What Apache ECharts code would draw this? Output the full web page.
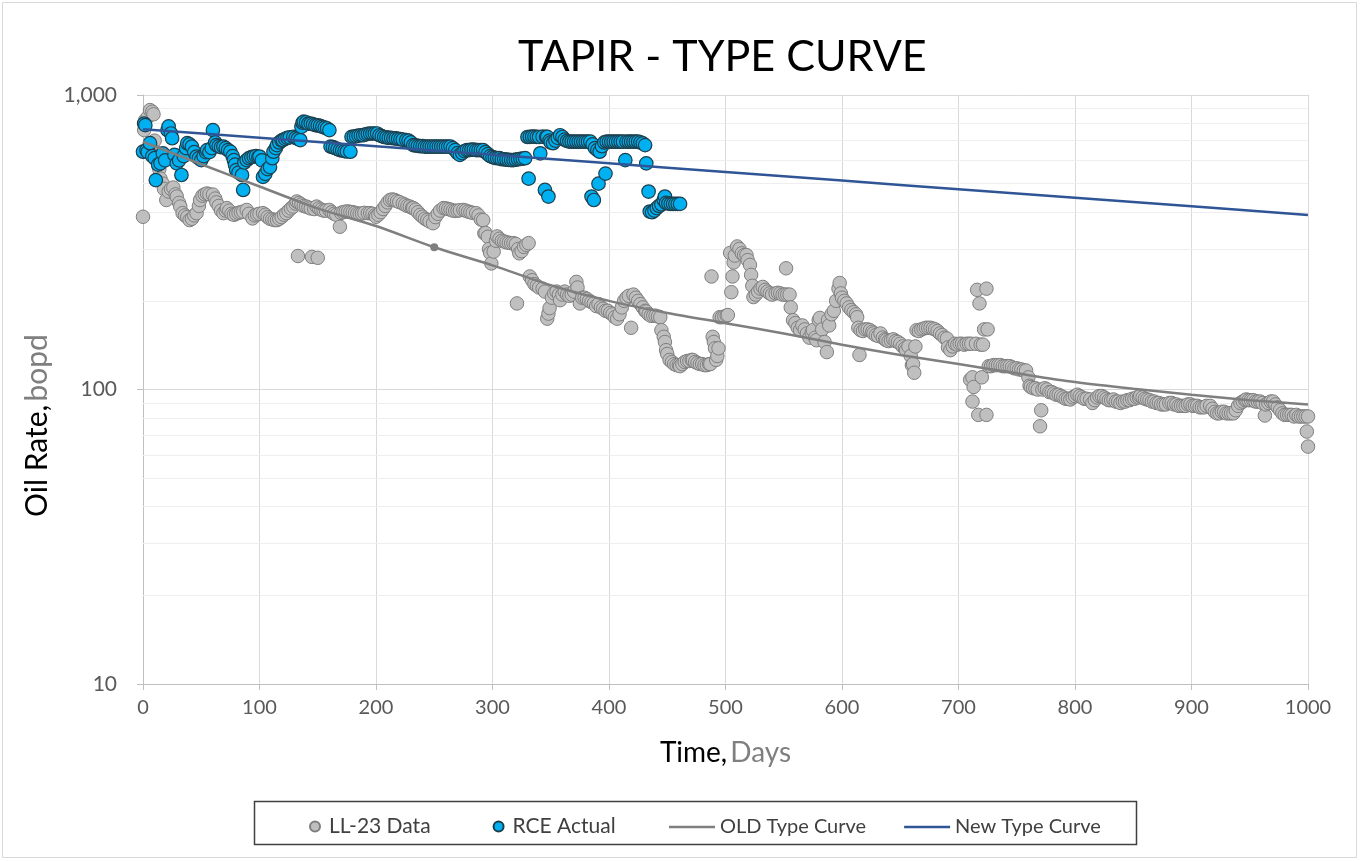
<!DOCTYPE html>
<html><head><meta charset="utf-8">
<script src="https://cdn.jsdelivr.net/npm/echarts@6/dist/echarts.min.js"></script>
<style>html,body{margin:0;padding:0;background:#fff}#c{width:1360px;height:861px}</style>
</head><body><div id="c"></div>
<script>
// LL-23 Data: [day, oil rate bopd]
const llData = [[0,386],[1,760],[2,822],[4,840],[6,889],[8,877],[9,860],[10,700],[11,640],[13,600],[14,560],[15,520],[17,500],[18,480],[20,440],[22,470],[24,480],[26,485],[28,460],[29,452],[31,430],[32,418],[34,397],[36,390],[38,385],[40,376],[42,380],[44,390],[46,397],[48,420],[49,440],[51,455],[53,460],[55,463],[57,460],[60,459],[62,445],[63,432],[65,420],[67,405],[69,397],[71,405],[72,413],[74,405],[76,395],[78,392],[80,395],[82,398],[84,400],[86,402],[89,407],[91,395],[94,381],[96,390],[98,393],[100,395],[103,397],[105,392],[107,385],[109,380],[111,378],[113,376],[115,376],[117,380],[119,385],[121,392],[123,397],[125,405],[127,412],[129,418],[131,428],[132,435],[133,284],[134,430],[136,425],[138,420],[140,418],[142,415],[144,412],[145,282],[147,410],[149,418],[150,280],[151,412],[153,408],[155,405],[157,405],[160,407],[162,400],[164,395],[166,392],[169,357],[170,398],[172,400],[174,402],[176,402],[178,401],[180,400],[182,398],[184,396],[186,395],[188,396],[190,398],[193,397],[195,397],[197,395],[199,390],[200,386],[202,392],[204,400],[206,410],[208,420],[210,432],[212,440],[214,442],[216,440],[218,436],[220,433],[223,428],[225,424],[227,420],[229,418],[231,414],[232,413],[234,408],[236,400],[238,392],[240,386],[242,380],[244,376],[246,372],[249,367],[251,385],[253,395],[255,405],[258,413],[260,412],[262,410],[264,408],[266,405],[268,404],[270,405],[272,406],[275,407],[277,405],[279,402],[281,400],[283,398],[286,397],[288,390],[290,378],[292,376],[293,339],[294,340],[296,330],[297,300],[298,291],[299,268],[301,294],[303,320],[304,331],[306,325],[308,320],[310,318],[312,316],[314,315],[316,314],[318,314],[320,312],[321,196],[322,300],[323,290],[325,295],[327,305],[329,310],[331,314],[332,242],[334,235],[336,228],[338,225],[340,222],[343,220],[345,215],[347,174],[348,181],[349,189],[351,205],[353,212],[355,215],[357,210],[358,201],[360,210],[362,215],[364,210],[366,208],[368,210],[370,215],[372,232],[373,222],[375,196],[377,205],[379,205],[381,203],[383,200],[385,198],[387,196],[389,192],[391,195],[393,190],[395,188],[397,185],[399,185],[401,182],[403,180],[405,176],[407,174],[409,180],[411,190],[413,200],[415,205],[417,208],[419,162],[421,210],[423,205],[425,200],[427,195],[429,190],[431,185],[432,184],[434,180],[436,178],[438,178],[440,178],[442,177],[444,176],[445,159],[447,151],[448,145],[449,136],[450,132],[452,126],[454,124],[456,122],[458,121],[460,121],[461,120],[463,122],[465,124],[467,125],[469,125],[471,126],[472,126],[474,124],[476,123],[478,122],[480,122],[482,121],[484,121],[486,122],[487,122],[488,242],[489,151],[490,145],[491,138],[492,126],[493,130],[494,138],[495,176],[497,176],[499,177],[501,178],[502,179],[504,291],[505,214],[506,242],[507,270],[508,285],[510,306],[512,300],[514,290],[516,286],[518,286],[519,275],[521,265],[522,245],[523,225],[524,206],[526,210],[528,215],[530,220],[532,223],[534,218],[536,215],[538,212],[540,210],[543,212],[545,213],[547,212],[549,210],[551,210],[552,258],[553,210],[555,210],[556,190],[558,172],[560,168],[562,162],[564,159],[566,165],[568,160],[570,155],[572,150],[574,156],[575,159],[577,150],[578,147],[580,172],[581,175],[583,160],[585,145],[587,134],[588,172],[589,165],[591,180],[593,185],[595,200],[597,220],[598,230],[599,212],[600,205],[602,200],[604,196],[606,190],[608,186],[610,183],[612,180],[613,176],[614,162],[615,131],[616,159],[618,158],[620,160],[622,160],[624,159],[626,157],[627,155],[629,153],[631,152],[633,155],[635,150],[637,148],[638,147],[640,146],[642,147],[644,148],[646,146],[648,145],[650,143],[652,140],[654,138],[655,136],[657,140],[659,130],[660,121],[661,122],[662,114],[663,140],[664,159],[666,158],[668,160],[670,161],[672,162],[674,162],[676,162],[678,161],[680,160],[682,158],[684,155],[686,153],[688,150],[690,149],[691,139],[693,136],[695,140],[697,143],[699,142],[701,143],[703,143],[705,142],[707,143],[709,143],[710,108],[711,143],[712,110],[712,91],[713,102],[715,143],[716,218],[717,82],[718,196],[719,142],[720,110],[721,142],[722,160],[724,220],[724,82],[725,160],[726,120],[728,120],[730,121],[732,121],[734,121],[736,121],[738,120],[740,120],[742,120],[744,120],[746,119],[748,118],[750,118],[752,117],[754,117],[756,116],[758,116],[760,110],[761,103],[762,102],[764,101],[766,101],[768,100],[770,75],[771,85],[772,100],[774,101],[776,100],[778,98],[780,98],[782,97],[784,96],[786,96],[788,95],[790,94],[792,93],[794,93],[796,92.5],[798,94],[800,95],[802,96],[804,95],[806,94],[808,93],[810,93],[813,92.5],[815,90],[817,92],[819,94],[821,95],[823,95],[825,94],[827,93],[829,92],[831,92],[833,92.5],[835,91],[837,91],[839,90],[841,91],[843,91],[845,92],[847,92],[849,93],[851,93],[853,94],[855,94],[856,95],[858,94],[860,93],[862,92.5],[864,92],[866,91],[868,91],[870,90],[872,90],[874,89],[876,89],[878,89],[881,90],[883,90],[885,89],[887,89],[889,88],[891,88],[893,88],[895,88],[897,89],[899,89],[901,88],[903,88],[905,88],[907,87],[909,87],[911,87],[913,88],[916,88],[918,86],[920,84],[922,83],[924,83],[926,84],[928,84],[930,83],[932,83],[934,83],[936,83],[938,85],[940,88],[942,90],[944,91],[946,92],[947,92.5],[949,92],[951,92],[953,92],[955,91],[957,91],[959,91],[961,90],[963,81.6],[964,89],[966,90],[968,91],[970,91],[972,89],[974,87],[976,85],[978,83],[980,82],[982,82],[984,82],[986,82],[988,81],[990,82],[992,81],[994,81],[996,81],[998,81],[999,72],[1000,81],[1000,64]];

// RCE Actual: [day, oil rate bopd]
const rceData = [[0,642],[1,800],[2,790],[3,650],[4,640],[6,686],[8,620],[10,610],[11,514],[13,580],[15,586],[17,634],[19,600],[21,760],[22,782],[24,740],[25,713],[27,626],[29,586],[31,600],[33,535],[35,620],[37,660],[38,686],[40,680],[42,668],[44,640],[46,618],[48,610],[50,601],[52,620],[54,640],[55,650],[57,640],[59,660],[60,760],[62,690],[63,676],[65,670],[67,665],[69,668],[71,660],[73,650],[75,642],[77,620],[78,601],[79,580],[80,556],[82,545],[85,535],[86,476],[87,590],[89,601],[91,610],[93,615],[95,618],[97,620],[99,615],[100,618],[102,600],[103,527],[105,540],[107,560],[109,569],[111,610],[112,642],[114,660],[115,676],[117,690],[119,700],[120,703],[122,710],[124,715],[126,718],[129,721],[131,715],[133,710],[135,703],[136,780],[137,805],[138,812],[140,808],[142,800],[144,800],[146,795],[148,790],[150,788],[152,785],[154,780],[156,775],[158,770],[160,760],[161,668],[163,665],[165,660],[167,655],[169,650],[171,648],[173,645],[175,643],[178,642],[179,721],[181,722],[183,725],[185,728],[187,730],[189,730],[191,735],[193,738],[195,740],[197,740],[199,740],[201,740],[203,730],[205,725],[207,720],[209,718],[211,715],[213,715],[215,713],[217,712],[219,710],[221,708],[223,705],[226,703],[228,700],[230,690],[232,676],[234,674],[236,672],[238,670],[240,670],[242,668],[244,668],[246,668],[248,668],[250,668],[252,668],[254,668],[256,668],[258,668],[260,668],[262,668],[264,668],[266,660],[268,650],[270,635],[272,626],[274,635],[276,645],[278,650],[280,650],[282,652],[284,652],[286,650],[288,650],[290,650],[292,650],[294,640],[296,630],[298,620],[300,615],[302,612],[304,610],[306,610],[308,605],[310,605],[312,603],[314,602],[316,601],[318,601],[320,603],[322,605],[324,607],[326,608],[328,610],[330,720],[331,520],[332,721],[334,722],[336,722],[338,721],[340,720],[341,634],[343,722],[345,476],[346,721],[347,721],[348,452],[349,700],[350,690],[352,686],[354,700],[356,715],[358,730],[360,720],[362,705],[364,698],[366,695],[368,694],[370,694],[372,694],[374,694],[376,694],[378,694],[380,694],[382,694],[384,694],[385,452],[386,680],[387,440],[388,660],[390,650],[391,500],[392,642],[394,670],[396,690],[397,541],[398,694],[400,694],[402,694],[404,694],[406,694],[408,694],[410,694],[412,694],[414,601],[415,694],[417,694],[419,694],[421,694],[423,694],[425,694],[427,690],[429,685],[431,676],[432,586],[434,470],[435,402],[437,400],[439,405],[441,413],[443,420],[445,425],[447,440],[448,452],[449,430],[451,428],[453,427],[455,427],[457,427],[459,427],[461,427]];

// Type curves
const oldDays  = [0,50,100,150,200,250,300,350,400,450,500,550,600,650,700,750,800,850,900,950,1000];
const oldRates = [694,582,489,412,359,304,264,226,200,182,168,155,142,131,122,113.5,106,100.5,96,92,89];
const oldMarkerDay = 250;
const newDays  = [0,100,200,300,400,500,600,700,800,900,1000];
const newRates = [765,716,670,627,586,548,512,479,448,419,391];

// Axis / grid levels
const minorLevels = [20,30,40,50,60,70,80,90,200,300,400,500,600,700,800,900];

const FONT = 'Lato, "Open Sans", sans-serif';
const chart = echarts.init(document.getElementById('c'));

const oldSeriesData = oldDays.map((d, i) => d === oldMarkerDay
  ? { value: [d, oldRates[i]], symbol: 'circle', symbolSize: 8, itemStyle: { color: '#7F7F7F' } }
  : { value: [d, oldRates[i]] });

chart.setOption({
  animation: false,
  backgroundColor: '#ffffff',
  textStyle: { fontFamily: FONT },
  title: {
    text: 'TAPIR - TYPE CURVE',
    left: 513, top: 31,
    textStyle: { fontFamily: FONT, fontSize: 43, fontWeight: 'normal', color: '#000000' }
  },
  grid: { left: 143, right: 52, top: 95, bottom: 177 },
  graphic: [
    { type: 'rect', silent: true, z: -10, shape: { x: 2.5, y: 2.5, width: 1354, height: 855 },
      style: { fill: 'none', stroke: '#D9D9D9', lineWidth: 1 } },
    { type: 'rect', silent: true, shape: { x: 254.5, y: 801.5, width: 882, height: 43 },
      style: { fill: 'none', stroke: '#404040', lineWidth: 1.5 } }
  ],
  legend: [
    { data: ['LL-23 Data', 'RCE Actual'], left: 304, top: 811, icon: 'circle',
      itemWidth: 10, itemHeight: 10, itemGap: 62,
      textStyle: { fontFamily: FONT, fontSize: 21, color: '#404040', padding: [0, 0, 0, 4] } },
    { data: [{ name: 'OLD Type Curve', icon: 'rect' }, { name: 'New Type Curve', icon: 'rect' }],
      left: 664, top: 812, symbolKeepAspect: false,
      itemWidth: 46, itemHeight: 2.5, itemGap: 38,
      textStyle: { fontFamily: FONT, fontSize: 20, color: '#404040' } }
  ],
  xAxis: {
    type: 'value', min: 0, max: 1000, interval: 100,
    name: '{a|Time,} {b|Days}', nameLocation: 'middle', nameGap: 55,
    nameTextStyle: { rich: {
      a: { fontFamily: FONT, fontSize: 28, color: '#000000' },
      b: { fontFamily: FONT, fontSize: 28, color: '#7F7F7F' } } },
    axisLine: { show: true, lineStyle: { color: '#BFBFBF', width: 1 } },
    axisTick: { show: true, inside: false, length: 6, lineStyle: { color: '#BFBFBF' } },
    axisLabel: { fontFamily: FONT, fontSize: 20, color: '#595959', margin: 14,
      formatter: v => String(v) },
    splitLine: { show: true, lineStyle: { color: '#D9D9D9', width: 1 } }
  },
  yAxis: {
    type: 'log', logBase: 10, min: 10, max: 1000,
    name: '{a|Oil Rate,} {b|bopd}', nameLocation: 'middle', nameGap: 61, nameRotate: 90,
    nameTextStyle: { padding: [0, 72, 0, 0], rich: {
      a: { fontFamily: FONT, fontSize: 30, color: '#000000' },
      b: { fontFamily: FONT, fontSize: 30, color: '#7F7F7F' } } },
    axisLine: { show: true, lineStyle: { color: '#BFBFBF', width: 1 } },
    axisTick: { show: true, length: 6, lineStyle: { color: '#BFBFBF' } },
    axisLabel: { fontFamily: FONT, fontSize: 21, color: '#595959', margin: 26,
      formatter: v => Math.round(v) >= 1000 ? Math.round(v).toLocaleString('en-US') : String(Math.round(v)) },
    splitLine: { show: true, lineStyle: { color: '#D9D9D9', width: 1 } }
  },
  series: [
    {
      name: 'LL-23 Data', type: 'scatter', data: llData, symbolSize: 13.5, z: 2,
      itemStyle: { color: '#BFBFBF', borderColor: '#7F7F7F', borderWidth: 1, opacity: 1 },
      markLine: {
        silent: true, symbol: 'none', z: 1, animation: false,
        label: { show: false },
        lineStyle: { color: '#EEEEEE', width: 1, type: 'solid' },
        data: minorLevels.map(v => ({ yAxis: v }))
      }
    },
    {
      name: 'RCE Actual', type: 'scatter', data: rceData, symbolSize: 13.5, z: 3,
      itemStyle: { color: '#00B0F0', borderColor: '#1D3F4D', borderWidth: 1.2, opacity: 1 }
    },
    {
      name: 'OLD Type Curve', type: 'line', data: oldSeriesData, smooth: 0.3, z: 4,
      symbol: 'none', showSymbol: true,
      lineStyle: { color: '#7F7F7F', width: 2.5 }, itemStyle: { color: '#7F7F7F' }
    },
    {
      name: 'New Type Curve', type: 'line', data: newDays.map((d, i) => [d, newRates[i]]), z: 5,
      symbol: 'none', smooth: 0.3,
      lineStyle: { color: '#2F5597', width: 2.5 }, itemStyle: { color: '#2F5597' }
    }
  ]
});
</script>
</body></html>
